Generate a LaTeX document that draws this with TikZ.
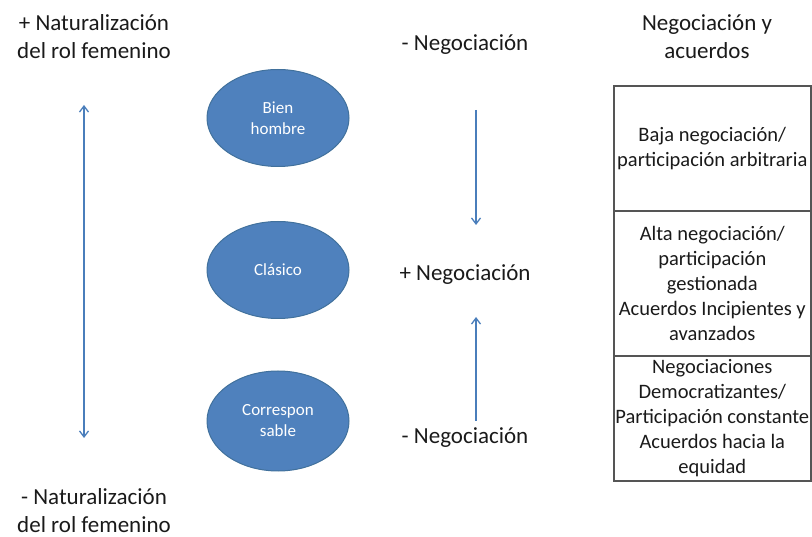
\documentclass[tikz,border=0pt]{standalone}
\usepackage{fontspec}
\setmainfont{Carlito}
\usetikzlibrary{shapes.geometric,arrows.meta}
\definecolor{ellfill}{HTML}{4F81BD}
\definecolor{elldraw}{HTML}{41719C}
\definecolor{arrcol}{HTML}{4A7EBB}
\definecolor{txt}{HTML}{1A1A1A}
\definecolor{tabline}{HTML}{555555}
\tikzset{
  biglabel/.style={align=center,text=txt,font=\fontsize{23}{28}\selectfont,inner sep=0pt},
  ellbox/.style={ellipse,fill=ellfill,draw=elldraw,line width=1pt,minimum width=142pt,minimum height=97pt,text=white,align=center,font=\fontsize{17}{21}\selectfont,inner sep=0pt},
  rowbox/.style={draw=tabline,line width=1.6pt,minimum width=197pt,align=center,text=txt,font=\fontsize{20.5}{25}\selectfont,inner sep=0pt},
  blarrow/.style={draw=arrcol,line width=1.3pt,-{Straight Barb[length=6pt,width=9pt,line width=1.3pt]}},
  dblarrow/.style={draw=arrcol,line width=1.3pt,{Straight Barb[length=6pt,width=9pt,line width=1.3pt]}-{Straight Barb[length=6pt,width=9pt,line width=1.3pt]}}
}
\begin{document}
\begin{tikzpicture}[x=1pt,y=-1pt]
\useasboundingbox (0,0) rectangle (812,537);
% left column
\node[biglabel] (natTop) at (94,37) {+ Naturalización\\del rol femenino};
\node[biglabel] (natBot) at (94,511) {- Naturalización\\del rol femenino};
\coordinate (laTop) at (84,105);
\coordinate (laBot) at (84,438);
\draw[dblarrow] (laTop) -- (laBot);
% ellipses
\node[ellbox] (e1) at (278,118) {Bien\\hombre};
\node[ellbox] (e2) at (278,270) {Clásico};
\node[ellbox,minimum height=100pt] (e3) at (278,421) {Correspon\\sable};
% negotiation column
\node[biglabel] (negTop) at (465,45) {- Negociación};
\node[biglabel] (negMid) at (465,275) {+ Negociación};
\node[biglabel] (negBot) at (465,438) {- Negociación};
\coordinate (d1) at (476,110);
\coordinate (d2) at (476,225);
\coordinate (u1) at (476,421);
\coordinate (u2) at (476,317);
\draw[blarrow] (d1) -- (d2);
\draw[blarrow] (u1) -- (u2);
% table
\node[biglabel] (head) at (707,37) {Negociación y\\acuerdos};
\node[rowbox,minimum height=125pt,anchor=north west] (r1) at (613,85) {Baja negociación/\\participación arbitraria};
\node[rowbox,minimum height=145pt,anchor=north west] (r2) at (613,210) {Alta negociación/\\participación\\gestionada\\Acuerdos Incipientes y\\avanzados};
\node[rowbox,minimum height=125pt,anchor=north west] (r3) at (613,355) {Negociaciones\\Democratizantes/\\Participación constante\\Acuerdos hacia la\\equidad};
\end{tikzpicture}
\end{document}
